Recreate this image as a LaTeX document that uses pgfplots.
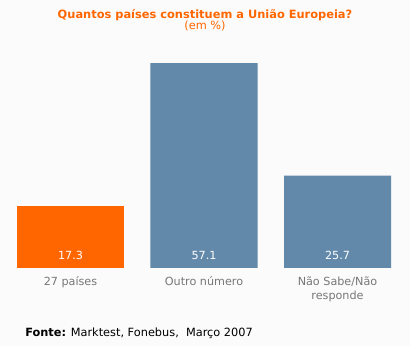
\documentclass[border=0pt]{standalone}
\usepackage{fontspec}
\setmainfont{DejaVu Sans}
\usepackage{pgfplots}
\pgfplotsset{compat=1.18}
\definecolor{orng}{HTML}{FF6600}
\definecolor{steel}{HTML}{6389AA}
\definecolor{bg}{HTML}{FBFBFB}
\definecolor{lbl}{HTML}{777777}
\begin{document}
\begin{tikzpicture}
\begin{scope}[x=0.75pt,y=0.75pt]
\fill[bg] (0,0) rectangle (410,346);
\node[font=\bfseries\fontsize{8.55}{10}\selectfont, text=orng, anchor=base, inner sep=0] at (205,327.7) {Quantos países constituem a União Europeia?};
\node[font=\fontsize{8.5}{10}\selectfont, text=orng, anchor=base, inner sep=0] at (205,316) {(em \%)};
\node[font=\fontsize{8.5}{10}\selectfont, text=black, anchor=base west, inner sep=0] at (25,10) {\textbf{Fonte:} Marktest, Fonebus, \ Março 2007};
\end{scope}
\begin{axis}[
  at={(2.8125pt,58.5pt)}, anchor=south west,
  scale only axis, width=300.375pt, height=161.55pt,
  xmin=-0.5, xmax=2.5, ymin=0, ymax=60,
  axis line style={draw=none},
  ytick=\empty,
  xtick={0,1,2},
  xticklabels={27 países, Outro número, {Não Sabe/Não\\responde}},
  xticklabel style={align=center, text=lbl, font=\fontsize{8.4}{10.7}\selectfont, anchor=north, yshift=-6.3pt, inner sep=0},
  major tick length=0pt,
  clip=false,
]
\addplot[ybar, bar width=80.25pt, bar shift=0pt, fill=orng, draw=none] coordinates {(0,17.3)};
\addplot[ybar, bar width=80.25pt, bar shift=0pt, fill=steel, draw=none] coordinates {(1,57.1) (2,25.7)};
\addplot[only marks, mark=none, nodes near coords, point meta=explicit symbolic,
  nodes near coords style={text=white, anchor=base, yshift=6pt, inner sep=0, font=\fontsize{8.4}{10}\selectfont}]
  coordinates {(0,0) [17.3] (1,0) [57.1] (2,0) [25.7]};
\end{axis}
\end{tikzpicture}
\end{document}
